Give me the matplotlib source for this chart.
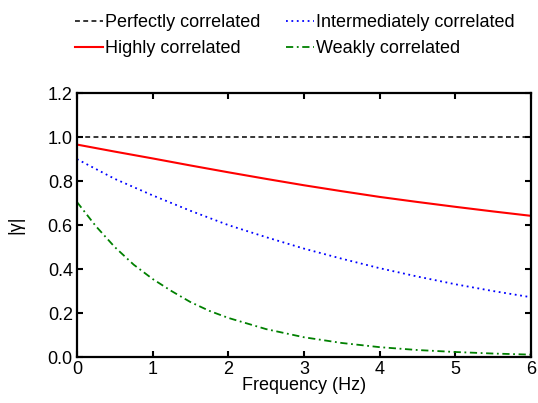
import matplotlib
matplotlib.use("Agg")
import matplotlib.pyplot as plt

plt.rcParams['font.family'] = ['Liberation Sans', 'DejaVu Sans']

freq_perfect = [0, 6]
perfect = [1.0, 1.0]

freq_half = [0, 0.5, 1, 1.5, 2, 2.5, 3, 3.5, 4, 4.5, 5, 5.5, 6]
highly = [0.966, 0.934, 0.903, 0.871, 0.840, 0.810, 0.781, 0.754, 0.728, 0.705, 0.683, 0.662, 0.642]
intermediate = [0.90, 0.81, 0.735, 0.665, 0.60, 0.545, 0.493, 0.447, 0.404, 0.366, 0.331, 0.30, 0.272]

freq_quarter = [0, 0.25, 0.5, 0.75, 1, 1.25, 1.5, 1.75, 2, 2.5, 3, 3.5, 4, 4.5, 5, 5.5, 6]
weakly = [0.705, 0.595, 0.50, 0.42, 0.355, 0.30, 0.25, 0.21, 0.178, 0.127, 0.090, 0.064,
          0.045, 0.032, 0.023, 0.016, 0.011]

fs = 13

fig = plt.figure(figsize=(5.38, 4.03), dpi=100)
ax = fig.add_axes([0.143, 0.114, 0.844, 0.655])

h1, = ax.plot(freq_perfect, perfect, color='black', linestyle=(0, (3.2, 2.2)), linewidth=1.1,
              label='Perfectly correlated')
h2, = ax.plot(freq_half, highly, color='#ff0000', linestyle='-', linewidth=1.5,
              label='Highly correlated')
h3, = ax.plot(freq_half, intermediate, color='#0000ff', linestyle=(0, (1, 2)), linewidth=1.3,
              label='Intermediately correlated')
h4, = ax.plot(freq_quarter, weakly, color='#008000', linestyle=(0, (4, 2, 1, 2)), linewidth=1.3,
              label='Weakly correlated')

ax.set_xlim(0, 6)
ax.set_ylim(0, 1.2)
ax.set_xticks([0, 1, 2, 3, 4, 5, 6])
ax.set_yticks([0.0, 0.2, 0.4, 0.6, 0.8, 1.0, 1.2])
ax.set_yticklabels(['0.0', '0.2', '0.4', '0.6', '0.8', '1.0', '1.2'])
ax.tick_params(direction='in', length=4, width=1.5, top=True, right=True, labelsize=fs, pad=3)
for s in ax.spines.values():
    s.set_linewidth(1.6)

ax.set_xlabel('Frequency (Hz)', fontsize=fs, labelpad=-1)
ax.set_ylabel('|γ|', fontsize=fs, labelpad=17)

fig.legend(handles=[h1, h2, h3, h4], ncol=2, loc='upper left', bbox_to_anchor=(0.11, 1.005),
           frameon=False, fontsize=fs, handlelength=1.55, handletextpad=0.1,
           columnspacing=1.4, labelspacing=0.5)

fig.savefig('out.png', dpi=100)
